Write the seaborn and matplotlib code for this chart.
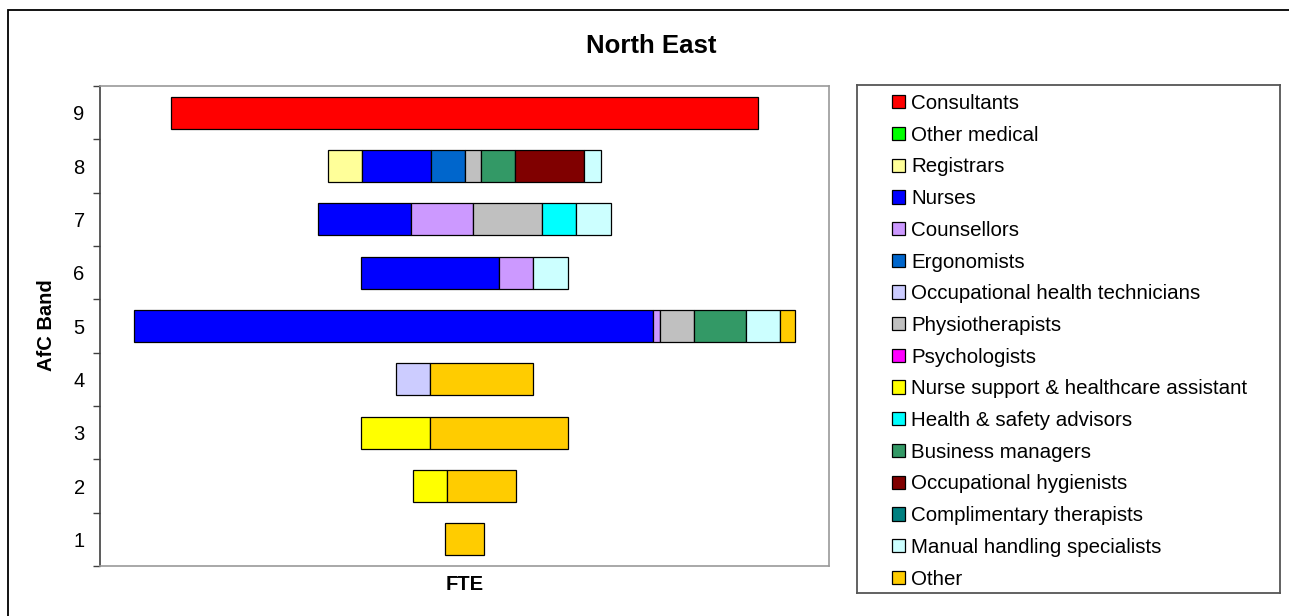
import numpy as np
import pandas as pd
import matplotlib
matplotlib.use("Agg")
import matplotlib.pyplot as plt
from matplotlib.patches import Patch, Rectangle
import seaborn as sns

# AfC bands, top to bottom
bands = ["9", "8", "7", "6", "5", "4", "3", "2", "1"]

roles = [
    "Consultants", "Other medical", "Registrars", "Nurses", "Counsellors",
    "Ergonomists", "Occupational health technicians", "Physiotherapists",
    "Psychologists", "Nurse support & healthcare assistant",
    "Health & safety advisors", "Business managers", "Occupational hygienists",
    "Complimentary therapists", "Manual handling specialists", "Other",
]

role_colors = [
    "#FF0000", "#00FF00", "#FFFF99", "#0000FF", "#CC99FF", "#0066CC",
    "#CCCCFF", "#C0C0C0", "#FF00FF", "#FFFF00", "#00FFFF", "#339966",
    "#800000", "#008080", "#CCFFFF", "#FFCC00",
]

# FTE by band (9 .. 1) for each staff group
consultants      = [17.05, 0, 0, 0, 0, 0, 0, 0, 0]
other_medical    = [0, 0, 0, 0, 0, 0, 0, 0, 0]
registrars       = [0, 1.0, 0, 0, 0, 0, 0, 0, 0]
nurses           = [0, 2.0, 2.7, 4.0, 15.1, 0, 0, 0, 0]
counsellors      = [0, 0, 1.8, 1.0, 0.2, 0, 0, 0, 0]
ergonomists      = [0, 1.0, 0, 0, 0, 0, 0, 0, 0]
oh_technicians   = [0, 0, 0, 0, 0, 1.0, 0, 0, 0]
physiotherapists = [0, 0.45, 2.0, 0, 1.0, 0, 0, 0, 0]
psychologists    = [0, 0, 0, 0, 0, 0, 0, 0, 0]
nurse_support    = [0, 0, 0, 0, 0, 0, 2.0, 1.0, 0]
health_safety    = [0, 0, 1.0, 0, 0, 0, 0, 0, 0]
business_mgrs    = [0, 1.0, 0, 0, 1.5, 0, 0, 0, 0]
occ_hygienists   = [0, 2.0, 0, 0, 0, 0, 0, 0, 0]
complimentary    = [0, 0, 0, 0, 0, 0, 0, 0, 0]
manual_handling  = [0, 0.5, 1.0, 1.0, 1.0, 0, 0, 0, 0]
other            = [0, 0, 0, 0, 0.45, 3.0, 4.0, 2.0, 1.15]

series = [
    consultants, other_medical, registrars, nurses, counsellors, ergonomists,
    oh_technicians, physiotherapists, psychologists, nurse_support,
    health_safety, business_mgrs, occ_hygienists, complimentary,
    manual_handling, other,
]

# Long table with the left edge of every segment; each band is centred on 0
values = np.array(series, dtype=float)
totals = values.sum(axis=0)
starts = -totals / 2 + np.vstack([np.zeros(len(bands)), np.cumsum(values, axis=0)[:-1]])
rows = []
for r, role in enumerate(roles):
    for b, band in enumerate(bands):
        if values[r, b] > 0:
            rows.append({"role": role, "band": band, "fte": values[r, b], "left": starts[r, b]})
df = pd.DataFrame(rows)

sns.set_theme(style="white")
plt.rcParams["font.family"] = ["Liberation Sans", "DejaVu Sans"]
plt.rcParams["text.color"] = "black"
plt.rcParams["axes.labelcolor"] = "black"
plt.rcParams["xtick.color"] = "black"
plt.rcParams["ytick.color"] = "black"

fig = plt.figure(figsize=(12.89, 6.16), dpi=100)
ax = fig.add_axes([100 / 1289, 50 / 616, 729 / 1289, 480 / 616])

for role, color in zip(roles, role_colors):
    sub = df[df["role"] == role]
    if sub.empty:
        continue
    sub = sub.assign(pos=sub["band"].map(bands.index)).sort_values("pos")
    sns.barplot(
        data=sub, x="fte", y="band", order=bands, orient="y",
        left=sub["left"].to_numpy(), color=color, saturation=1,
        width=0.6, errorbar=None, edgecolor="black", linewidth=0.9, ax=ax,
    )

ax.set_xlim(-10.6, 10.6)
ax.set_ylim(8.5, -0.5)
ax.set_xticks([])
ax.set_yticks(range(len(bands)))
ax.set_yticklabels(bands)
ax.set_yticks(np.arange(-0.5, len(bands), 1.0), minor=True)
ax.tick_params(axis="y", which="major", length=0, pad=11, labelsize=14.5, labelcolor="black")
ax.tick_params(axis="y", which="minor", length=5, width=1, color="#404040", direction="out", left=True)
ax.set_xlabel("")
ax.set_ylabel("")
for side in ["top", "right", "bottom"]:
    ax.spines[side].set_color("#999999")
    ax.spines[side].set_linewidth(1.2)
ax.spines["left"].set_color("#404040")
ax.spines["left"].set_linewidth(1.2)

fig.text(651 / 1289, 1 - 46 / 616, "North East", ha="center", va="center",
         fontsize=18.5, fontweight="bold", color="black")
fig.text(465 / 1289, 1 - 585 / 616, "FTE", ha="center", va="center",
         fontsize=14.5, fontweight="bold", color="black")
fig.text(47 / 1289, 1 - 325 / 616, "AfC Band", ha="center", va="center",
         rotation=90, fontsize=14.5, fontweight="bold", color="black")

# Outer chart border
fig.add_artist(Rectangle((8 / 1289, -0.05), 1.1, 1 - 10 / 616 + 0.05,
                         transform=fig.transFigure, fill=False,
                         edgecolor="black", linewidth=1.3))

# Legend panel
lax = fig.add_axes([857 / 1289, 23 / 616, 423 / 1289, 508 / 616])
lax.set_xticks([])
lax.set_yticks([])
for s in lax.spines.values():
    s.set_color("#555555")
    s.set_linewidth(1.3)
handles = [Patch(facecolor=c, edgecolor="black", linewidth=0.9) for c in role_colors]
leg = lax.legend(handles, roles, loc="upper left", bbox_to_anchor=(35 / 423, 1 - 9 / 508),
                 frameon=False, fontsize=14.75, handlelength=0.62, handleheight=0.62,
                 handletextpad=0.33, labelspacing=0.62, borderpad=0, borderaxespad=0)
for t in leg.get_texts():
    t.set_color("black")

fig.savefig("out.png", dpi=100)
